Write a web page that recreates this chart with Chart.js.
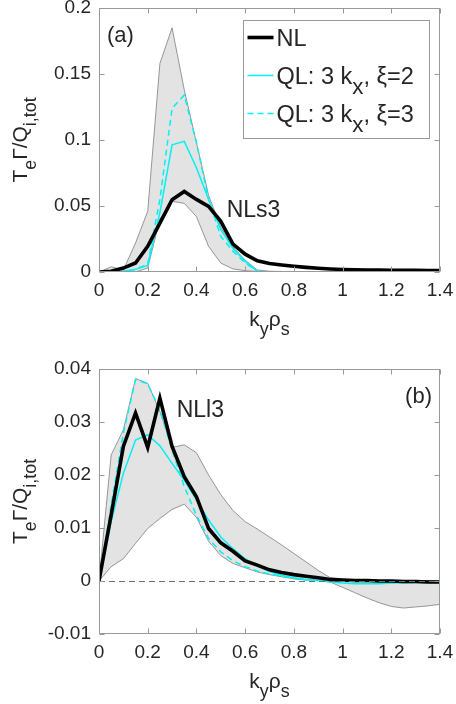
<!DOCTYPE html>
<html>
<head>
<meta charset="utf-8">
<title>Particle flux spectra</title>
<script src="https://cdn.jsdelivr.net/npm/chart.js@4.4.1/dist/chart.umd.min.js"></script>
<style>
  html, body { margin: 0; padding: 0; background: #fff; }
  #wrap { position: relative; width: 456px; height: 704px; }
  canvas { position: absolute; left: 0; }
  #chartA { top: 0; }
  #chartB { top: 352px; }
</style>
</head>
<body>
<div id="wrap">
  <canvas id="chartA" width="456" height="352"></canvas>
  <canvas id="chartB" width="456" height="352"></canvas>
</div>
<script>
const FONT = '"Liberation Sans", Arial, Helvetica, sans-serif';
const TEXT = "#262626";
const AXIS = "#999999";
const BAND = "#e3e3e3";
const EDGE = "#7f7f7f";
const CYAN = "#00f2f2";

// k_y rho_s grid shared by both panels
const ky = [0, 0.05, 0.1, 0.15, 0.2, 0.25, 0.3, 0.35, 0.4, 0.45, 0.5, 0.55, 0.6, 0.65, 0.7,
            0.75, 0.8, 0.85, 0.9, 0.95, 1, 1.05, 1.1, 1.15, 1.2, 1.25, 1.3, 1.35, 1.4];

const xTicks = [0, 0.2, 0.4, 0.6, 0.8, 1, 1.2, 1.4];
const yTicksA = [0, 0.05, 0.1, 0.15, 0.2];
const yTicksB = [-0.01, 0, 0.01, 0.02, 0.03, 0.04];

const seriesLabels = ["NL", "QL: 3 k_{x}, \u03BE=2", "QL: 3 k_{x}, \u03BE=3"];
const xTitle = "k_{y}\u03C1_{s}";
const yTitle = "T_{e}\u0393/Q_{i,tot}";

// (a) NLs3
const nlA = [0, 0.0006, 0.003, 0.0068, 0.0194, 0.037, 0.0548, 0.061, 0.055, 0.0497, 0.0384,
             0.0212, 0.0135, 0.0085, 0.0065, 0.0053, 0.0043, 0.0035, 0.0028, 0.0023, 0.0019,
             0.0016, 0.0015, 0.0014, 0.0013, 0.0012, 0.0012, 0.0011, 0.0011];
const ql2A = [0, 0, 0.0005, 0.002, 0.005, 0.045, 0.0964, 0.099, 0.079, 0.055, 0.032, 0.018,
              0.008, 0.0005, 0, 0, 0, 0, 0, 0, 0, 0, 0, 0, 0];
const ql3A = [0, 0, 0.0005, 0.002, 0.006, 0.055, 0.124, 0.134, 0.098, 0.055, 0.027, 0.0157,
              0.0068, 0.0005, 0, 0, 0, 0, 0, 0, 0, 0, 0, 0, 0];
const bandHiA = [0, 0.004, 0.0015, 0.022, 0.046, 0.158, 0.185, 0.138, 0.098, 0.058, 0.034,
                 0.019, 0.009, 0.0015, 0.0006, 0.0004, 0.0003, 0.0002, 0.0002, 0.0001, 0.0001,
                 0.0001, 0.0001, 0.0001, 0.0001];
const bandLoA = [0, 0, 0, 0, 0.003, 0.04, 0.0535, 0.052, 0.042, 0.0194, 0.0068, 0.0023,
                 0.001, 0.0003, 0, 0, 0, 0, 0, 0, 0, 0, 0, 0, 0];

// (b) NLl3
const nlB = [0, 0.0125, 0.0254, 0.0317, 0.0252, 0.0345, 0.0254, 0.0197, 0.0159, 0.0099, 0.0072,
             0.0056, 0.0038, 0.003, 0.0021, 0.0016, 0.0012, 0.0009, 0.0006, 0.0003, 0.0002,
             0.0001, 0.0001, 0, 0, -0.0001, -0.0001, -0.0002, -0.0002];
const ql2B = [0, 0.0112, 0.0203, 0.0266, 0.0276, 0.0255, 0.0222, 0.019, 0.0153, 0.0115, 0.0083,
              0.0061, 0.0042, 0.0028, 0.0018, 0.0011, 0.0006, 0.0003, 0.0001, -0.0002, -0.0004,
              -0.0005, -0.0005, -0.0005, -0.0004, -0.0004, -0.0003, -0.0003, -0.0002];
const ql3B = [0, 0.0143, 0.0279, 0.038, 0.0372, 0.0323, 0.0247, 0.0178, 0.0124, 0.008, 0.0055,
              0.0038, 0.0027, 0.0019, 0.0013, 0.0009, 0.0005, 0.0002, 0.0001, 0, -0.0001,
              -0.0001, -0.0001, -0.0001, -0.0001, -0.0001, -0.0001, -0.0001, 0];
const bandHiB = [0, 0.0238, 0.0285, 0.0382, 0.0373, 0.032, 0.0252, 0.0257, 0.0242, 0.02, 0.0163,
                 0.0133, 0.0112, 0.0098, 0.0083, 0.0068, 0.0052, 0.0036, 0.002, 0.0006, 0.0001,
                 0.0001, 0.0001, 0.0001, 0.0001, 0.0001, 0.0001, 0.0001, 0.0001];
const bandLoB = [0, 0.0027, 0.0042, 0.0071, 0.0099, 0.0118, 0.0135, 0.0145, 0.012, 0.0075, 0.0048,
                 0.0033, 0.0025, 0.0017, 0.0012, 0.0008, 0.0004, 0.0002, 0.0001, -0.0002, -0.0012,
                 -0.0022, -0.0032, -0.0041, -0.0048, -0.0051, -0.0049, -0.0047, -0.0044];

function pts(vals) {
    return vals.map((v, i) => ({ x: ky[i], y: v }));
}

// split "a_{b}c" into runs of normal / subscript text
function parseRich(str) {
    const out = [];
    const re = /_\{([^}]*)\}/g;
    let last = 0, m;
    while ((m = re.exec(str))) {
        if (m.index > last) out.push({ t: str.slice(last, m.index), sub: false });
        out.push({ t: m[1], sub: true });
        last = re.lastIndex;
    }
    if (last < str.length) out.push({ t: str.slice(last), sub: false });
    return out;
}

function drawRich(ctx, str, x, y, size, align, subScale) {
    const runs = parseRich(str);
    const subSize = size * (subScale || 0.85);
    let w = 0;
    runs.forEach(r => {
        ctx.font = (r.sub ? subSize : size) + "px " + FONT;
        w += ctx.measureText(r.t).width;
    });
    let cx = align === "center" ? x - w / 2 : align === "right" ? x - w : x;
    ctx.textAlign = "left";
    ctx.textBaseline = "alphabetic";
    runs.forEach(r => {
        ctx.font = (r.sub ? subSize : size) + "px " + FONT;
        ctx.fillText(r.t, cx, r.sub ? y + size * 0.42 : y);
        cx += ctx.measureText(r.t).width;
    });
}

function drawLegend(chart) {
    const ctx = chart.ctx;
    const bx = 243.5, by = 20.5, bw = 186, bh = 118;
    ctx.fillStyle = "#fff";
    ctx.fillRect(bx, by, bw, bh);
    ctx.strokeStyle = AXIS;
    ctx.lineWidth = 1;
    ctx.strokeRect(bx, by, bw, bh);
    const items = chart.data.datasets.filter(d => d.legendRow !== undefined)
        .sort((p, q) => p.legendRow - q.legendRow);
    items.forEach((d, i) => {
        const y = by + 17 + i * 38;
        ctx.save();
        ctx.strokeStyle = d.borderColor;
        ctx.lineWidth = d.borderWidth;
        ctx.setLineDash(d.borderDash || []);
        ctx.beginPath();
        ctx.moveTo(bx + 4, y);
        ctx.lineTo(bx + 30, y);
        ctx.stroke();
        ctx.restore();
        ctx.fillStyle = TEXT;
        drawRich(ctx, d.label, bx + 33, y + 8.5, 23.5, "left", 0.95);
    });
}

function panelPlugin(opts) {
    return {
        id: "panel",
        afterDatasetsDraw(chart) {
            const { ctx, chartArea: a, scales } = chart;
            ctx.save();
            if (opts.zeroLine) {
                const y0 = Math.round(scales.y.getPixelForValue(0)) + 0.5;
                ctx.strokeStyle = "#707070";
                ctx.lineWidth = 1;
                ctx.setLineDash([6, 4]);
                ctx.beginPath();
                ctx.moveTo(a.left, y0);
                ctx.lineTo(a.right, y0);
                ctx.stroke();
                ctx.setLineDash([]);
            }
            // box round the axes with inward ticks on all sides
            const l = Math.round(a.left) + 0.5, r = Math.round(a.right) - 0.5;
            const t = Math.round(a.top) + 0.5, b = Math.round(a.bottom) - 0.5;
            ctx.strokeStyle = AXIS;
            ctx.lineWidth = 1;
            ctx.strokeRect(l, t, r - l, b - t);
            const tl = 5;
            ctx.beginPath();
            scales.x.ticks.forEach(tk => {
                const px = Math.round(scales.x.getPixelForValue(tk.value)) + 0.5;
                ctx.moveTo(px, b); ctx.lineTo(px, b - tl);
                ctx.moveTo(px, t); ctx.lineTo(px, t + tl);
            });
            scales.y.ticks.forEach(tk => {
                const py = Math.round(scales.y.getPixelForValue(tk.value)) + 0.5;
                ctx.moveTo(l, py); ctx.lineTo(l + tl, py);
                ctx.moveTo(r, py); ctx.lineTo(r - tl, py);
            });
            ctx.stroke();
            ctx.restore();
        },
        afterDraw(chart) {
            const { ctx, chartArea: a, scales } = chart;
            ctx.save();
            ctx.fillStyle = TEXT;
            drawRich(ctx, xTitle, (a.left + a.right) / 2, a.bottom + 54, 21, "center");
            ctx.save();
            ctx.translate(27, (a.top + a.bottom) / 2);
            ctx.rotate(-Math.PI / 2);
            drawRich(ctx, yTitle, 0, 0, 21, "center");
            ctx.restore();

            ctx.font = "22px " + FONT;
            ctx.textBaseline = "alphabetic";
            if (opts.tag.align === "left") {
                ctx.textAlign = "left";
                ctx.fillText(opts.tag.text, a.left + 8, a.top + 34);
            } else {
                ctx.textAlign = "right";
                ctx.fillText(opts.tag.text, a.right - 8, a.top + 34);
            }
            ctx.font = "23px " + FONT;
            ctx.textAlign = "left";
            ctx.fillText(opts.note.text,
                scales.x.getPixelForValue(opts.note.x),
                scales.y.getPixelForValue(opts.note.y));

            if (opts.legend) drawLegend(chart);
            ctx.restore();
        }
    };
}

function makeChart(id, cfg) {
    const tickFont = { family: FONT, size: 19 };
    return new Chart(document.getElementById(id), {
        type: "line",
        data: {
            datasets: [
                { label: "band hi", data: pts(cfg.hi), borderColor: EDGE, borderWidth: 0.8,
                  backgroundColor: BAND, fill: "+1", order: 5 },
                { label: "band lo", data: pts(cfg.lo), borderColor: EDGE, borderWidth: 0.8,
                  fill: false, order: 4 },
                { label: seriesLabels[2], data: pts(cfg.ql3), borderColor: CYAN, borderWidth: 1.5,
                  borderDash: [6, 4], fill: false, order: 2, legendRow: 2 },
                { label: seriesLabels[1], data: pts(cfg.ql2), borderColor: CYAN, borderWidth: 1.5,
                  fill: false, order: 1, legendRow: 1 },
                { label: seriesLabels[0], data: pts(cfg.nl), borderColor: "#000", borderWidth: 3.6,
                  fill: false, order: 0, legendRow: 0 }
            ]
        },
        options: {
            responsive: false,
            animation: false,
            devicePixelRatio: 1,
            layout: { padding: { left: 0, right: 16, top: cfg.top, bottom: 0 }, autoPadding: false },
            elements: { point: { radius: 0 }, line: { tension: 0 } },
            plugins: { legend: { display: false }, tooltip: { enabled: false } },
            scales: {
                x: {
                    type: "linear", min: 0, max: 1.4,
                    grid: { display: false, drawTicks: false },
                    border: { display: false },
                    ticks: { padding: 7, color: TEXT, font: tickFont, maxRotation: 0, autoSkip: false,
                             callback: v => String(+v.toFixed(3)) },
                    afterBuildTicks: s => { s.ticks = xTicks.map(v => ({ value: v })); },
                    afterFit: s => { s.height = cfg.xHeight; s.paddingLeft = 0; s.paddingRight = 0; }
                },
                y: {
                    type: "linear", min: cfg.yTicks[0], max: cfg.yTicks[cfg.yTicks.length - 1],
                    grid: { display: false, drawTicks: false },
                    border: { display: false },
                    ticks: { padding: 8, color: TEXT, font: tickFont, autoSkip: false,
                             callback: v => String(+v.toFixed(3)) },
                    afterBuildTicks: s => { s.ticks = cfg.yTicks.map(v => ({ value: v })); },
                    afterFit: s => { s.width = 99; s.paddingTop = 0; s.paddingBottom = 0; }
                }
            }
        },
        plugins: [panelPlugin(cfg)]
    });
}

makeChart("chartA", {
    nl: nlA, ql2: ql2A, ql3: ql3A, hi: bandHiA, lo: bandLoA,
    yTicks: yTicksA, top: 8, xHeight: 80,
    tag: { text: "(a)", align: "left" },
    note: { text: "NLs3", x: 0.524, y: 0.042 },
    legend: true
});

makeChart("chartB", {
    nl: nlB, ql2: ql2B, ql3: ql3B, hi: bandHiB, lo: bandLoB,
    yTicks: yTicksB, top: 17, xHeight: 70,
    tag: { text: "(b)", align: "right" },
    note: { text: "NLl3", x: 0.319, y: 0.031 },
    zeroLine: true
});
</script>
</body>
</html>
